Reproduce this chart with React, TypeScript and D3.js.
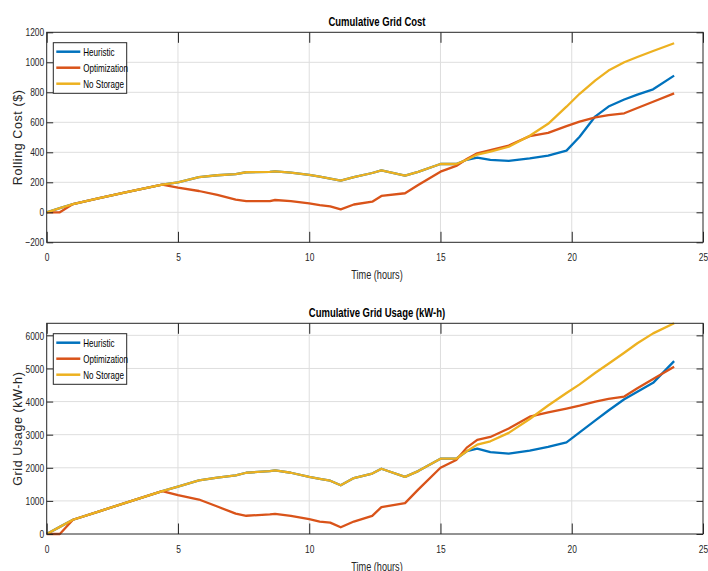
import * as d3 from 'd3';
import { useEffect, useRef } from 'react';

// time samples (hours)
const hours = [0, 0.5, 1, 2, 3, 4.4, 5, 5.8, 6.5, 7.2, 7.6, 8.5, 8.7, 9.3, 10, 10.4, 10.8, 11.2, 11.7, 12.4, 12.75, 13.65, 14.15, 15, 15.6, 16, 16.4, 16.9, 17.6, 18.4, 19.1, 19.8, 20.3, 20.9, 21.4, 22, 22.5, 23.1, 23.9];

const costHeuristic = [0, 28, 55, 94, 133, 185, 200, 235, 247, 255, 267, 270, 273, 265, 249, 238, 225, 211, 235, 262, 280, 244, 270, 322, 322, 350, 364, 350, 343, 360, 378, 411, 504, 640, 705, 752, 785, 820, 911];
const costOptimization = [0, 0, 55, 94, 133, 185, 164, 142, 116, 85, 75, 75, 82, 75, 60, 48, 40, 20, 52, 71, 109, 127, 182, 271, 309, 355, 393, 415, 445, 508, 530, 575, 605, 633, 648, 660, 695, 737, 793];
const costNoStorage = [0, 28, 55, 94, 133, 185, 200, 235, 247, 255, 267, 270, 273, 265, 249, 238, 225, 211, 235, 262, 280, 244, 270, 322, 322, 350, 385, 405, 437, 510, 590, 704, 790, 880, 945, 1000, 1035, 1075, 1127];

const usageHeuristic = [0, 215, 430, 685, 940, 1296, 1429, 1620, 1700, 1770, 1850, 1900, 1919, 1850, 1726, 1665, 1610, 1472, 1690, 1827, 1970, 1726, 1900, 2274, 2274, 2500, 2579, 2470, 2430, 2520, 2630, 2768, 3070, 3430, 3730, 4070, 4300, 4566, 5222];
const usageOptimization = [0, 0, 430, 685, 940, 1296, 1173, 1041, 830, 615, 551, 590, 605, 548, 447, 376, 345, 203, 376, 548, 812, 934, 1340, 2000, 2234, 2609, 2843, 2930, 3185, 3545, 3670, 3790, 3880, 4000, 4080, 4152, 4400, 4680, 5051];
const usageNoStorage = [0, 215, 430, 685, 940, 1296, 1429, 1620, 1700, 1770, 1850, 1900, 1919, 1850, 1726, 1665, 1610, 1472, 1690, 1827, 1970, 1726, 1900, 2274, 2274, 2500, 2700, 2800, 3055, 3475, 3880, 4260, 4520, 4869, 5140, 5475, 5760, 6060, 6364];

const seriesNames = ['Heuristic', 'Optimization', 'No Storage'];
const colors = ['#0072BD', '#D95319', '#EDB120'];

const xTicks = [0, 5, 10, 15, 20, 25];
const costTicks = [-200, 0, 200, 400, 600, 800, 1000, 1200];
const usageTicks = [0, 1000, 2000, 3000, 4000, 5000, 6000];

const W = 708;
const H = 571;
const font = 'Arial, "Liberation Sans", sans-serif';
const ink = '#262626';

// no narrow font installed, so squeeze the glyphs like the original's Arial Narrow
const condense = (sel, k = 0.73) => {
  sel.each(function () {
    const w = this.getComputedTextLength();
    if (w > 0) {
      d3.select(this).attr('textLength', w * k).attr('lengthAdjust', 'spacingAndGlyphs');
    }
  });
};

const drawPanel = (svg, cfg) => {
  const { top, bottom, title, ylabel, yDomain, yTicks, series } = cfg;
  const left = 46.7;
  const right = 703;

  const x = d3.scaleLinear().domain([0, 25]).range([left, right]);
  const y = d3.scaleLinear().domain(yDomain).range([bottom, top]);

  const g = svg.append('g');

  // grid
  g.append('g')
    .selectAll('line')
    .data(xTicks.slice(1, -1))
    .join('line')
    .attr('x1', d => x(d)).attr('x2', d => x(d))
    .attr('y1', top).attr('y2', bottom)
    .attr('stroke', '#dedede').attr('stroke-width', 1);
  g.append('g')
    .selectAll('line')
    .data(yTicks.filter(d => y(d) > top + 0.5 && y(d) < bottom - 0.5))
    .join('line')
    .attr('x1', left).attr('x2', right)
    .attr('y1', d => y(d)).attr('y2', d => y(d))
    .attr('stroke', '#dedede').attr('stroke-width', 1);

  // curves
  const line = d3.line().x((d, i) => x(hours[i])).y(d => y(d));
  series.forEach((s, i) => {
    g.append('path')
      .attr('d', line(s))
      .attr('fill', 'none')
      .attr('stroke', colors[i])
      .attr('stroke-width', 2.3)
      .attr('stroke-linejoin', 'round');
  });

  // axes
  const styleAxis = sel => {
    sel.select('.domain').remove();
    sel.selectAll('line').attr('stroke', ink);
    sel.selectAll('text').attr('fill', ink).attr('font-family', font).attr('font-size', 11.5);
  };
  g.append('g')
    .attr('transform', `translate(0,${bottom})`)
    .call(d3.axisBottom(x).tickValues(xTicks).tickSizeInner(-10.5).tickSizeOuter(0).tickPadding(10.5))
    .call(styleAxis)
    .call(a => condense(a.selectAll('text')));
  g.append('g')
    .attr('transform', `translate(0,${top})`)
    .call(d3.axisTop(x).tickValues(xTicks).tickSizeInner(-10.5).tickSizeOuter(0).tickFormat(() => ''))
    .call(styleAxis);
  g.append('g')
    .attr('transform', `translate(${left},0)`)
    .call(d3.axisLeft(y).tickValues(yTicks).tickSizeInner(-6.5).tickSizeOuter(0).tickPadding(2.5).tickFormat(d3.format('d')))
    .call(styleAxis)
    .call(a => condense(a.selectAll('text')));
  g.append('g')
    .attr('transform', `translate(${right},0)`)
    .call(d3.axisRight(y).tickValues(yTicks).tickSizeInner(-6.5).tickSizeOuter(0).tickFormat(() => ''))
    .call(styleAxis);

  g.append('rect')
    .attr('x', left).attr('y', top)
    .attr('width', right - left).attr('height', bottom - top)
    .attr('fill', 'none').attr('stroke', ink).attr('stroke-width', 1);

  // labels
  g.append('text')
    .attr('x', 377).attr('y', top - 6.5)
    .attr('text-anchor', 'middle')
    .attr('font-family', font).attr('font-weight', 'bold').attr('font-size', 13)
    .attr('fill', '#000')
    .text(title)
    .call(condense);
  g.append('text')
    .attr('x', 377).attr('y', bottom + 36.5)
    .attr('text-anchor', 'middle')
    .attr('font-family', font).attr('font-size', 12.5)
    .attr('fill', ink)
    .text('Time (hours)')
    .call(condense);
  g.append('text')
    .attr('transform', `translate(21.5,${(top + bottom) / 2}) rotate(-90)`)
    .attr('text-anchor', 'middle')
    .attr('font-family', font).attr('font-size', 12.5)
    .attr('letter-spacing', 0.6)
    .attr('fill', ink)
    .text(ylabel);

  // legend
  const lx = left + 6.6;
  const ly = top + 10.4;
  const leg = g.append('g').attr('transform', `translate(${lx},${ly})`);
  leg.append('rect')
    .attr('width', 73.4).attr('height', 50.6)
    .attr('fill', '#fff').attr('stroke', ink).attr('stroke-width', 1);
  seriesNames.forEach((name, i) => {
    const cy = 9 + i * 16;
    leg.append('line')
      .attr('x1', 3).attr('x2', 27)
      .attr('y1', cy).attr('y2', cy)
      .attr('stroke', colors[i]).attr('stroke-width', 2.5);
    leg.append('text')
      .attr('x', 30).attr('y', cy).attr('dy', '0.35em')
      .attr('font-family', font).attr('font-size', 11)
      .attr('fill', '#000')
      .text(name)
      .call(condense);
  });
};

const App = () => {
  const svgRef = useRef(null);

  useEffect(() => {
    const svg = d3.select(svgRef.current);
    svg.selectAll('*').remove();
    svg.append('rect').attr('width', W).attr('height', H).attr('fill', '#fff');

    drawPanel(svg, {
      top: 32.3,
      bottom: 242.3,
      title: 'Cumulative Grid Cost',
      ylabel: 'Rolling Cost ($)',
      yDomain: [-200, 1200],
      yTicks: costTicks,
      series: [costHeuristic, costOptimization, costNoStorage],
    });
    drawPanel(svg, {
      top: 323.3,
      bottom: 534,
      title: 'Cumulative Grid Usage (kW-h)',
      ylabel: 'Grid Usage (kW-h)',
      yDomain: [0, d3.max(usageNoStorage)],
      yTicks: usageTicks,
      series: [usageHeuristic, usageOptimization, usageNoStorage],
    });
  }, []);

  return (
    <svg
      ref={svgRef}
      width={W}
      height={H}
      viewBox={`0 0 ${W} ${H}`}
      style={{ position: 'absolute', left: 0, top: 0, display: 'block' }}
    />
  );
};

export default App;
